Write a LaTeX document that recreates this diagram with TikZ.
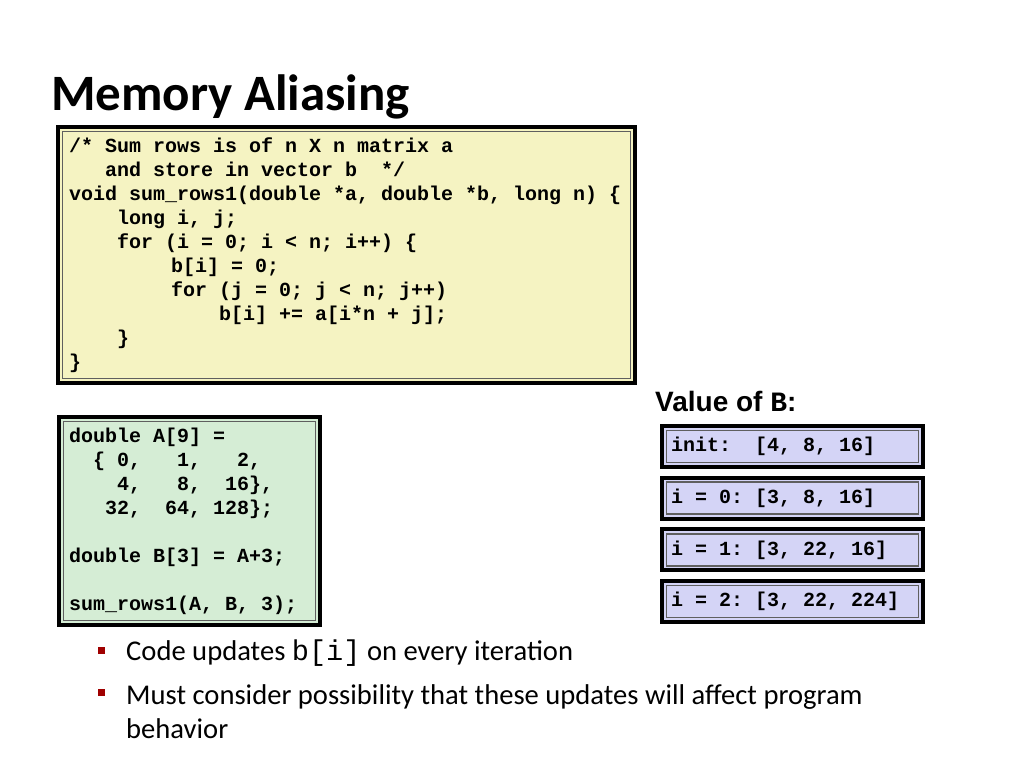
\documentclass[tikz,border=0pt]{standalone}
\usepackage{fontspec}
\setmainfont{Carlito}
\setmonofont{Liberation Mono}
\newfontfamily\codefont{Liberation Mono}
\newfontfamily\headfont{Liberation Sans}
\usetikzlibrary{fit,positioning}
\definecolor{codeyellow}{RGB}{245,243,194}
\definecolor{codegreen}{RGB}{213,237,213}
\definecolor{valblue}{RGB}{212,212,246}
\definecolor{edgegray}{RGB}{95,95,95}
\definecolor{bulletred}{RGB}{160,0,0}
\newcommand\ind[1]{\hspace*{#1\dimexpr.6em\relax}}
\tikzstyle{codebox}=[
	draw=black,
	line width=4,
	outer sep=0,
	rectangle,
	anchor=north west,
	align=flush left,
	inner ysep=0,
	font={\codefont\bfseries\fontsize{20}{24}\selectfont\frenchspacing}]
\tikzstyle{inline}=[
	draw=edgegray,
	line width=1.5,
	rectangle,
	outer sep=0,
	inner sep=-4.5]
\tikzstyle{title}=[
	anchor=base west,
	inner sep=0,
	font={\bfseries\fontsize{51}{56}\selectfont}]
\tikzstyle{bullet}=[
	rectangle,
	fill=bulletred,
	inner sep=0,
	minimum size=7]
\tikzstyle{bullettext}=[
	anchor=west,
	align=left,
	inner sep=0,
	font={\fontsize{28.6}{34}\selectfont}]

\begin{document}
\begin{tikzpicture}[x=1pt,y=-1pt]
	\path[fill=white] (0,0) rectangle (1024,768);
	\node[title] (title) at (51,110) {Memory Aliasing};
	\begin{scope}
		\node[codebox,fill=codeyellow,minimum width=577,minimum height=256,inner xsep=11,text width=555] (sumrows) at (58,127)
		{/* Sum rows is of n X n matrix a\\
		\ind{3}and store in vector b\ \ */\\
		void sum\_rows1(double *a, double *b, long n) \{\\
		\ind{4}long i, j;\\
		\ind{4}for (i = 0; i < n; i++) \{\\
		\ind{8.5}b[i] = 0;\\
		\ind{8.5}for (j = 0; j < n; j++)\\
		\ind{12.5}b[i] += a[i*n + j];\\
		\ind{4}\}\\
		\}};
		\node[inline,fit=(sumrows)] (sumrowsin) {};
	\end{scope}
	\begin{scope}
		\node[codebox,fill=codegreen,minimum width=261,minimum height=208,inner xsep=10,text width=241] (decl) at (59,417)
		{double A[9] =\\
		\ind{2}\{ 0,\ \ \ 1,\ \ \ 2,\\
		\ind{4}4,\ \ \ 8,\ \ 16\},\\
		\ind{3}32,\ \ 64, 128\};\\
		\mbox{}\\
		double B[3] = A+3;\\
		\mbox{}\\
		sum\_rows1(A, B, 3);};
		\node[inline,fit=(decl)] (declin) {};
	\end{scope}
	\node[anchor=base west,inner sep=0,font={\headfont\bfseries\fontsize{28}{30}\selectfont}] (valhead) at (655,411)
	{Value of {\codefont\bfseries\fontsize{28}{30}\selectfont B}:};
	\begin{scope}[node distance=10.7pt]
		\node[codebox,fill=valblue,minimum width=261,minimum height=41,inner xsep=9,text width=243] (vinit) at (662,426) {init:\ \ [4, 8, 16]};
		\node[codebox,fill=valblue,minimum width=261,minimum height=41,inner xsep=9,text width=243] (vzero) [below=of vinit] {i = 0: [3, 8, 16]};
		\node[codebox,fill=valblue,minimum width=261,minimum height=41,inner xsep=9,text width=243] (vone) [below=of vzero] {i = 1: [3, 22, 16]};
		\node[codebox,fill=valblue,minimum width=261,minimum height=41,inner xsep=9,text width=243] (vtwo) [below=of vone] {i = 2: [3, 22, 224]};
		\node[inline,fit=(vinit)] (vinitin) {};
		\node[inline,fit=(vzero)] (vzeroin) {};
		\node[inline,fit=(vone)] (vonein) {};
		\node[inline,fit=(vtwo)] (vtwoin) {};
	\end{scope}
	\node[bullet] (dotone) at (101,650) {};
	\node[bullettext] (textone) at (126,653) {Code updates \texttt{b[i]} on every iteration};
	\node[bullet] (dottwo) at (101,692) {};
	\node[bullettext] (texttwo) at (126,712) {Must consider possibility that these updates will affect program\\behavior};
\end{tikzpicture}
\end{document}
